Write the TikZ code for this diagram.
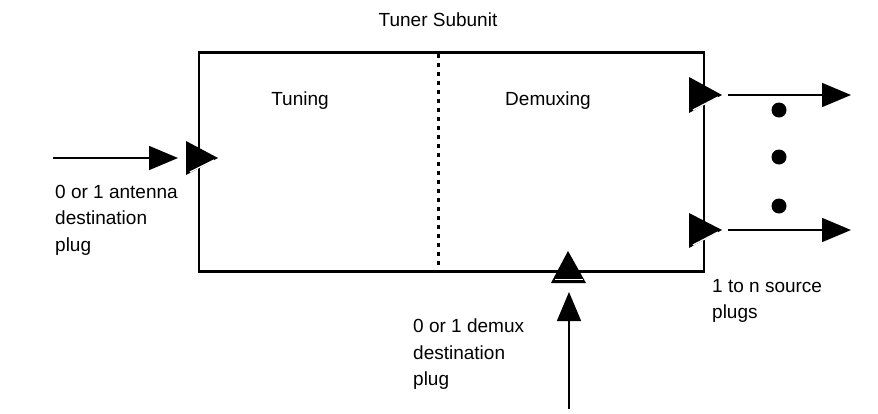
\documentclass[tikz,border=0pt]{standalone}
\usepackage{fontspec}
\setmainfont{Liberation Sans}
\usetikzlibrary{arrows.meta}
\begin{document}
\begin{tikzpicture}[x=1pt,y=-1pt,
  lbl/.style={font=\fontsize{19}{26.5}\selectfont, inner sep=0pt, align=left},
  boxline/.style={line width=2.2pt},
  conn/.style={line width=1.6pt, -{Triangle[length=29pt,width=24pt]}},
  plugfill/.style={fill=black},
  stripe/.style={draw=white, line width=1.3pt},
  dotmark/.style={circle, fill=black, minimum size=15pt, inner sep=0pt}]
\useasboundingbox (0,0) rectangle (878,413);
% box
\node[boxline, draw, minimum width=505pt, minimum height=219pt, inner sep=0pt] (box) at (451.5,162) {};
\draw[line width=3pt, dash pattern=on 4pt off 5pt] (438,54) -- (438,270);
% labels
\node[lbl] (title) at (438,20) {Tuner Subunit};
\node[lbl] (tuning) at (300,101) {Tuning};
\node[lbl] (demux) at (548,101) {Demuxing};
\node[lbl, anchor=north west] (lin) at (55,185) {0 or 1 antenna\\destination\\plug};
\node[lbl, anchor=north west] (lout) at (712,279) {1 to n source\\plugs};
\node[lbl, anchor=north west] (ldem) at (413,319) {0 or 1 demux\\destination\\plug};
% plugs
\fill[plugfill] (186,141) -- (218,158) -- (186,175) -- cycle;
\draw[stripe] (190,172) -- (214,160);
\coordinate (pin) at (178,158);
\fill[plugfill] (689,77) -- (722,95) -- (689,113) -- cycle;
\draw[stripe] (693,110) -- (718,97);
\coordinate (pout1) at (728,95);
\fill[plugfill] (689,213) -- (722,230) -- (689,248) -- cycle;
\draw[stripe] (693,245) -- (718,232);
\coordinate (pout2) at (728,230);
\fill[plugfill] (568,251) -- (586,283) -- (551,283) -- cycle;
\draw[stripe] (555,279.5) -- (583,279.5);
\coordinate (pdem) at (569,292);
% connector ends
\coordinate (srcin) at (53,158);
\coordinate (endout1) at (851,95);
\coordinate (endout2) at (851,230);
\coordinate (srcdem) at (569,409);
\draw[conn] (srcin) -- (pin);
\draw[conn] (pout1) -- (endout1);
\draw[conn] (pout2) -- (endout2);
\draw[conn] (srcdem) -- (pdem);
% dots
\node[dotmark] (d1) at (779,110) {};
\node[dotmark] (d2) at (779,157) {};
\node[dotmark] (d3) at (779,206) {};
\end{tikzpicture}
\end{document}
